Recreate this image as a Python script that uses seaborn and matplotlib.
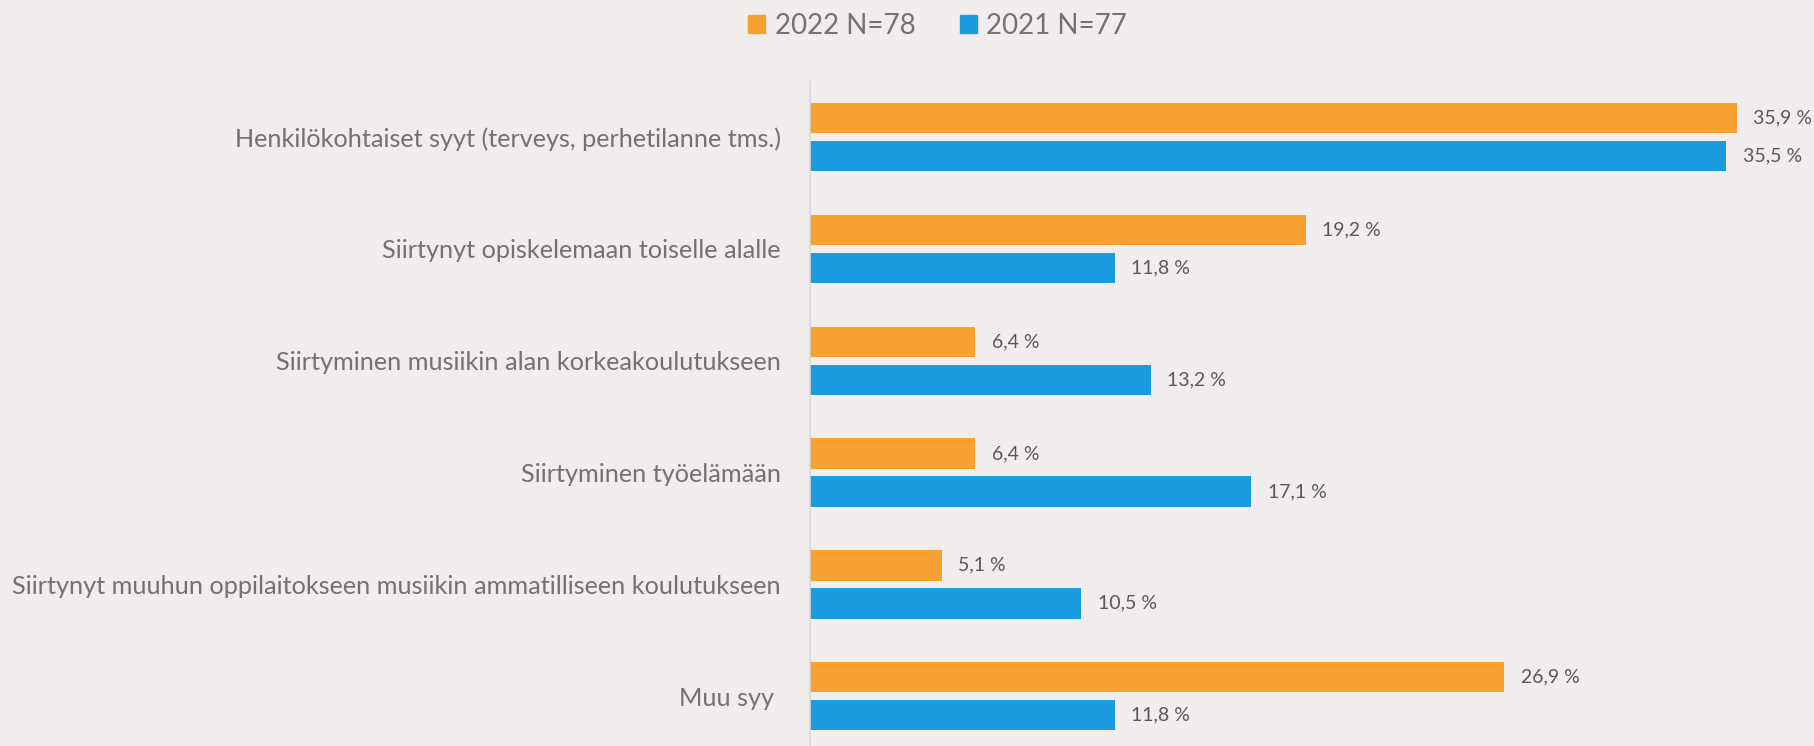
import matplotlib
matplotlib.use("Agg")
import matplotlib.pyplot as plt
import seaborn as sns
import pandas as pd

# data
categories = [
    "Henkilökohtaiset syyt (terveys, perhetilanne tms.)",
    "Siirtynyt opiskelemaan toiselle alalle",
    "Siirtyminen musiikin alan korkeakoulutukseen",
    "Siirtyminen työelämään",
    "Siirtynyt muuhun oppilaitokseen musiikin ammatilliseen koulutukseen",
    "Muu syy ",
]
series_names = ["2022 N=78", "2021 N=77"]
values_2022 = [35.9, 19.2, 6.4, 6.4, 5.1, 26.9]
values_2021 = [35.5, 11.8, 13.2, 17.1, 10.5, 11.8]
colors = ["#F8A131", "#1A9BDF"]

bg = "#F0EDEC"
text_grey = "#767171"
label_grey = "#595959"

df = pd.DataFrame({
    "syy": categories * 2,
    "vuosi": [series_names[0]] * len(categories) + [series_names[1]] * len(categories),
    "osuus": values_2022 + values_2021,
})

sns.set_theme(style="white")
plt.rcParams["font.family"] = ["Lato", "DejaVu Sans"]

fig = plt.figure(figsize=(18.14, 7.46), dpi=100, facecolor=bg)
ax = fig.add_axes([0.4465, -0.008, 0.5535, 0.899])
ax.set_facecolor(bg)

sns.barplot(data=df, y="syy", x="osuus", hue="vuosi", orient="h",
            palette=colors, saturation=1, width=0.68, gap=0.2,
            linewidth=0, edgecolor="none", ax=ax, legend=False)

ax.set_xlim(0, 38.9)
ax.set_ylim(5.5, -0.5)
ax.set_xlabel("")
ax.set_ylabel("")
ax.set_xticks([])
for s in ["top", "right", "bottom"]:
    ax.spines[s].set_visible(False)
ax.spines["left"].set_color("#D9D9D9")
ax.spines["left"].set_linewidth(1.2)
ax.tick_params(axis="y", length=0, pad=21, labelsize=18.2, labelcolor=text_grey)

for cont in ax.containers:
    labels = [f"{v:.1f} %".replace(".", ",") for v in cont.datavalues]
    ax.bar_label(cont, labels=labels, padding=12, fontsize=14, color=label_grey)

# legend
handles = [plt.Rectangle((0, 0), 1, 1, color=c) for c in colors]
fig.legend(handles, series_names, loc="center", bbox_to_anchor=(0.517, 0.965),
           ncol=2, frameon=False, fontsize=20, labelcolor=text_grey,
           handlelength=0.6, handleheight=0.6, handletextpad=0.35,
           columnspacing=1.6)

fig.savefig("out.png", dpi=100, facecolor=bg)
